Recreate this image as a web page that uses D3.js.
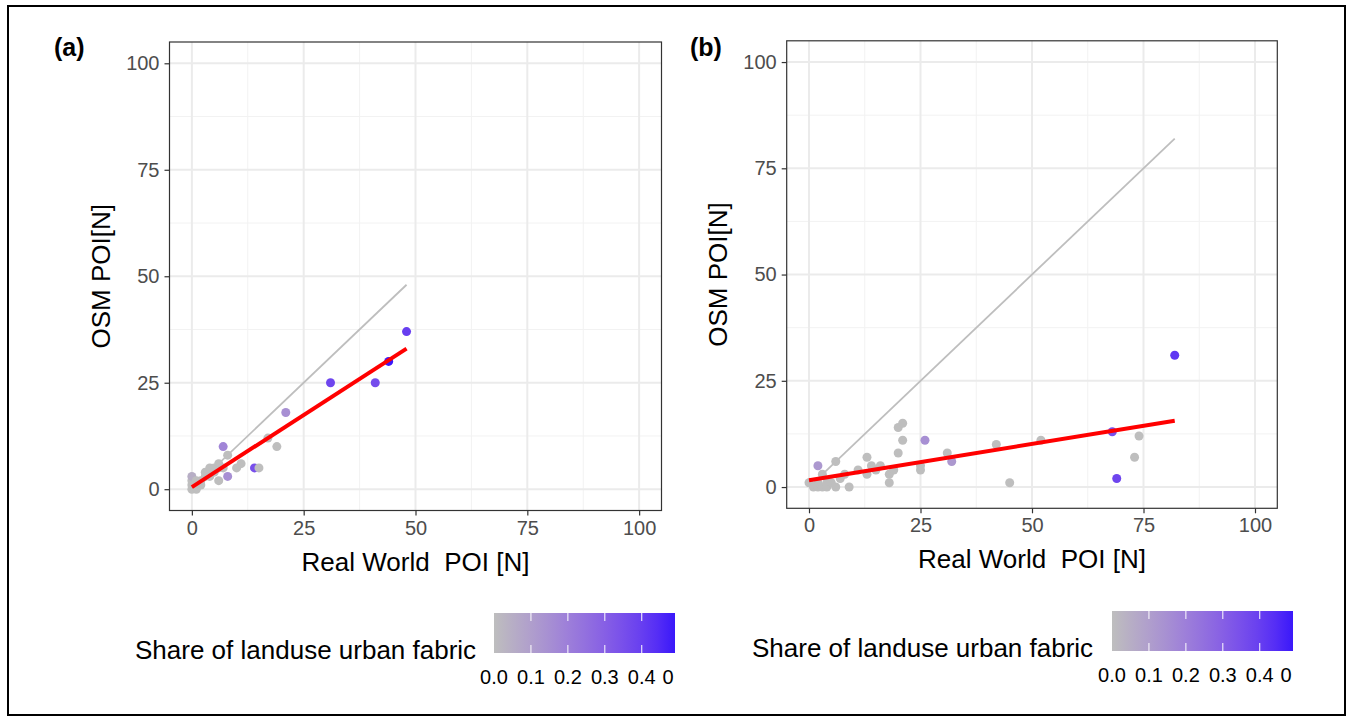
<!DOCTYPE html>
<html lang="en">
<head>
<meta charset="UTF-8">
<title>OSM vs real world POI</title>
<script src="https://d3js.org/d3.v7.min.js"></script>
<style>
  body { margin: 0; background: #fff; }
  text { font-family: "Liberation Sans", Arial, sans-serif; }
</style>
</head>
<body>
<div id="chart"></div>
<script>
// panel (a): real world POI, OSM POI, share of urban fabric
const realA  = [0, 0, 0, 0, 1, 1, 1, 2, 2, 3, 3, 4, 4, 5, 5, 6, 6, 6, 7, 7, 8, 8, 10, 11, 14, 15, 17, 19, 21, 31, 41, 44, 48];
const osmA   = [0, 1, 2, 3, 0, 1, 2, 1, 2, 3, 4, 3, 5, 4, 5, 5, 6, 2, 5, 10, 8, 3, 5, 6, 5, 5, 12, 10, 18, 25, 25, 30, 37];
const shareA = [0, 0, 0, 0.05, 0, 0, 0, 0, 0, 0, 0, 0, 0, 0, 0, 0, 0, 0, 0, 0.18, 0, 0.15, 0, 0, 0.35, 0, 0, 0, 0.15, 0.38, 0.36, 0.49, 0.4];

// panel (b)
const realB  = [0, 1, 2, 2, 2, 3, 3, 4, 4, 5, 6, 6, 7, 8, 9, 11, 13, 13, 14, 15, 16, 18, 18, 19, 20, 20, 21, 21, 25, 25, 26, 31, 32, 42, 45, 52, 68, 69, 73, 74, 82];
const osmB   = [1, 0, 0, 1, 5, 0, 3, 1, 0, 1, 0, 6, 2, 3, 0, 4, 3, 7, 5, 4, 5, 1, 3, 4, 8, 14, 15, 11, 4, 5, 11, 8, 6, 10, 1, 11, 13, 2, 7, 12, 31];
const shareB = [0, 0, 0, 0, 0.12, 0, 0, 0, 0, 0, 0, 0, 0, 0, 0, 0, 0, 0, 0, 0, 0, 0, 0, 0, 0, 0, 0, 0, 0, 0, 0.15, 0, 0.12, 0, 0, 0, 0.35, 0.38, 0, 0, 0.42];

// fitted lines (x range and y at the ends)
const fitA = [[0, 0.5], [48, 33]];
const fitB = [[0, 1.6], [82, 15.6]];

const ticks = [0, 25, 50, 75, 100];
const minorTicks = [12.5, 37.5, 62.5, 87.5];
const legendTicks = [0, 0.1, 0.2, 0.3, 0.4];
const legendLabels = ["0.0", "0.1", "0.2", "0.3", "0.4", "0"];
const shareMax = 0.49;

const W = 1347, H = 718;
const svg = d3.select("#chart").append("svg")
  .attr("width", W).attr("height", H);

svg.append("rect")
  .attr("x", 8).attr("y", 6)
  .attr("width", 1337).attr("height", 709)
  .attr("fill", "none").attr("stroke", "#000").attr("stroke-width", 2);

const color = d3.scaleLinear()
  .domain([0, shareMax])
  .range(["#BEBEBE", "#3A18FA"])
  .interpolate(d3.interpolateLab);

// gradient for the colour bars
const grad = svg.append("defs").append("linearGradient")
  .attr("id", "shareGrad");
d3.range(0, 1.01, 0.1).forEach(t => {
  grad.append("stop")
    .attr("offset", (t * 100) + "%")
    .attr("stop-color", color(t * shareMax));
});

function drawPanel(p) {
  const x = d3.scaleLinear().domain([-5, 105]).range([p.left, p.right]);
  const y = d3.scaleLinear().domain([-5, 105]).range([p.bottom, p.top]);
  const g = svg.append("g");

  // grid
  g.selectAll(".minx").data(minorTicks).enter().append("line")
    .attr("x1", d => x(d)).attr("x2", d => x(d))
    .attr("y1", p.top).attr("y2", p.bottom)
    .attr("stroke", "#f2f2f2").attr("stroke-width", 1);
  g.selectAll(".miny").data(minorTicks).enter().append("line")
    .attr("y1", d => y(d)).attr("y2", d => y(d))
    .attr("x1", p.left).attr("x2", p.right)
    .attr("stroke", "#f2f2f2").attr("stroke-width", 1);
  g.selectAll(".majx").data(ticks).enter().append("line")
    .attr("x1", d => x(d)).attr("x2", d => x(d))
    .attr("y1", p.top).attr("y2", p.bottom)
    .attr("stroke", "#ebebeb").attr("stroke-width", 2);
  g.selectAll(".majy").data(ticks).enter().append("line")
    .attr("y1", d => y(d)).attr("y2", d => y(d))
    .attr("x1", p.left).attr("x2", p.right)
    .attr("stroke", "#ebebeb").attr("stroke-width", 2);

  // points
  g.selectAll("circle").data(p.real).enter().append("circle")
    .attr("cx", d => x(d))
    .attr("cy", (d, i) => y(p.osm[i]))
    .attr("r", 4.5)
    .attr("fill", (d, i) => color(p.share[i]));

  // 1:1 line up to the largest real value
  const maxReal = d3.max(p.real);
  g.append("line")
    .attr("x1", x(0)).attr("y1", y(0))
    .attr("x2", x(maxReal)).attr("y2", y(maxReal))
    .attr("stroke", "#bebebe").attr("stroke-width", 1.8);

  // fitted line
  g.append("line")
    .attr("x1", x(p.fit[0][0])).attr("y1", y(p.fit[0][1]))
    .attr("x2", x(p.fit[1][0])).attr("y2", y(p.fit[1][1]))
    .attr("stroke", "#ff0000").attr("stroke-width", 4);

  // border
  g.append("rect")
    .attr("x", p.left).attr("y", p.top)
    .attr("width", p.right - p.left).attr("height", p.bottom - p.top)
    .attr("fill", "none").attr("stroke", "#333").attr("stroke-width", 1.2);

  // axes
  const ax = g.append("g")
    .attr("transform", "translate(0," + p.bottom + ")")
    .call(d3.axisBottom(x).tickValues(ticks).tickSize(5).tickPadding(5));
  const ay = g.append("g")
    .attr("transform", "translate(" + p.left + ",0)")
    .call(d3.axisLeft(y).tickValues(ticks).tickSize(5).tickPadding(5));
  [ax, ay].forEach(a => {
    a.select(".domain").remove();
    a.selectAll("line").attr("stroke", "#333").attr("stroke-width", 1.2);
    a.selectAll("text").attr("fill", "#4d4d4d").style("font-size", "20px")
      .style("font-family", "'Liberation Sans', Arial, sans-serif");
  });

  g.append("text")
    .attr("x", (p.left + p.right) / 2).attr("y", p.bottom + 60)
    .attr("text-anchor", "middle").style("font-size", "26px")
    .style("white-space", "pre").attr("xml:space", "preserve")
    .text("Real World  POI [N]");

  g.append("text")
    .attr("transform", "translate(" + (p.left - 60) + "," + ((p.top + p.bottom) / 2) + ") rotate(-90)")
    .attr("text-anchor", "middle").style("font-size", "26px")
    .text("OSM POI[N]");

  g.append("text")
    .attr("x", p.tagX).attr("y", 56)
    .style("font-size", "25px").style("font-weight", "bold")
    .text(p.tag);

  // colour bar legend
  const lx = d3.scaleLinear().domain([0, shareMax]).range([p.barX, p.barX + 181]);
  g.append("rect")
    .attr("x", lx(0)).attr("y", p.barY)
    .attr("width", lx(shareMax) - lx(0)).attr("height", 40)
    .attr("fill", "url(#shareGrad)");
  g.selectAll(".lt").data(legendTicks.slice(1)).enter().append("g")
    .each(function(d) {
      const t = d3.select(this);
      t.append("line").attr("x1", lx(d)).attr("x2", lx(d))
        .attr("y1", p.barY).attr("y2", p.barY + 8)
        .attr("stroke", "#fff").attr("stroke-width", 1);
      t.append("line").attr("x1", lx(d)).attr("x2", lx(d))
        .attr("y1", p.barY + 32).attr("y2", p.barY + 40)
        .attr("stroke", "#fff").attr("stroke-width", 1);
    });
  g.selectAll(".ll").data(legendLabels).enter().append("text")
    .attr("x", (d, i) => i < legendTicks.length ? lx(legendTicks[i]) : lx(shareMax) - 7)
    .attr("y", p.barY + 71)
    .attr("text-anchor", "middle")
    .style("font-size", "20px")
    .text(d => d);
  g.append("text")
    .attr("x", p.legTextX).attr("y", p.barY + 46)
    .style("font-size", "26px")
    .text("Share of landuse urban fabric");
}

drawPanel({
  left: 169.5, right: 661.5, top: 42, bottom: 510.5,
  real: realA, osm: osmA, share: shareA, fit: fitA,
  tag: "(a)", tagX: 54, barX: 494, barY: 613, legTextX: 135
});

drawPanel({
  left: 786.7, right: 1277.3, top: 40.8, bottom: 508.3,
  real: realB, osm: osmB, share: shareB, fit: fitB,
  tag: "(b)", tagX: 690, barX: 1112, barY: 611, legTextX: 752
});
</script>
</body>
</html>
